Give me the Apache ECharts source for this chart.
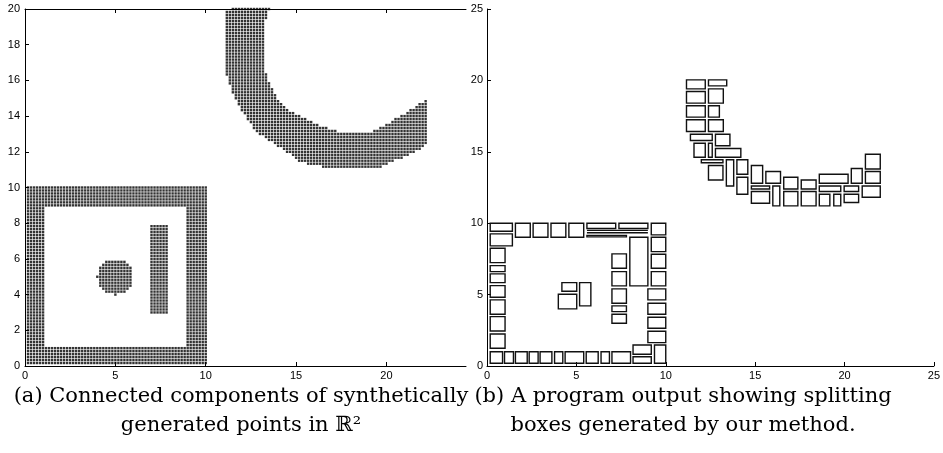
<!DOCTYPE html>
<html>
<head>
<meta charset="utf-8">
<script src="https://cdn.jsdelivr.net/npm/echarts@6/dist/echarts.min.js"></script>
<style>
  html, body { margin: 0; padding: 0; background: #fff; }
  #chart { width: 943px; height: 453px; }
</style>
</head>
<body>
<div id="chart"></div>
<script>
// (a) synthetic points: blocks of grid points [x0, x1, y0, y1], grid pitch 1/6
var pitch = 1 / 6;
var frameBlocks = [
  [0.17, 10, 0.17, 1.0],
  [0.17, 10, 9.0, 10],
  [0.17, 1.0, 1.17, 8.83],
  [9.0, 10, 1.17, 8.83]
];
var barBlocks = [
  [7.0, 7.83, 3.0, 7.83]
];
var discRows = [
  [5.0, 5.0, 4.0, 4.0],
  [4.5, 5.5, 4.17, 4.17],
  [4.33, 5.67, 4.33, 4.33],
  [4.17, 5.83, 4.5, 4.83],
  [4.0, 5.83, 5.0, 5.0],
  [4.17, 5.83, 5.17, 5.5],
  [4.33, 5.67, 5.67, 5.67],
  [4.5, 5.5, 5.83, 5.83]
];
var crescentRows = [
  [11.5, 13.5, 20.0, 20.0],
  [11.17, 13.33, 19.5, 19.83],
  [11.17, 13.17, 16.5, 19.33],
  [11.17, 13.33, 16.33, 16.33],
  [11.33, 13.33, 16.0, 16.17],
  [11.33, 13.5, 15.83, 15.83],
  [11.5, 13.5, 15.67, 15.67],
  [11.5, 13.67, 15.33, 15.5],
  [11.67, 13.83, 15.0, 15.17],
  [11.83, 14.0, 14.83, 14.83], [22.17, 22.17, 14.83, 14.83],
  [11.83, 14.17, 14.67, 14.67], [21.83, 22.17, 14.67, 14.67],
  [12.0, 14.33, 14.5, 14.5], [21.67, 22.17, 14.5, 14.5],
  [12.0, 14.5, 14.33, 14.33], [21.33, 22.17, 14.33, 14.33],
  [12.17, 14.83, 14.17, 14.17], [21.17, 22.17, 14.17, 14.17],
  [12.33, 15.17, 14.0, 14.0], [20.83, 22.17, 14.0, 14.0],
  [12.33, 15.5, 13.83, 13.83], [20.5, 22.17, 13.83, 13.83],
  [12.5, 15.83, 13.67, 13.67], [20.33, 22.17, 13.67, 13.67],
  [12.67, 16.17, 13.5, 13.5], [20.0, 22.17, 13.5, 13.5],
  [12.67, 16.67, 13.33, 13.33], [19.67, 22.17, 13.33, 13.33],
  [12.83, 17.17, 13.17, 13.17], [19.33, 22.17, 13.17, 13.17],
  [13.0, 22.17, 13.0, 13.0],
  [13.33, 22.17, 12.83, 12.83],
  [13.5, 22.17, 12.67, 12.67],
  [13.83, 22.17, 12.5, 12.5],
  [14.0, 22.0, 12.33, 12.33],
  [14.33, 21.83, 12.17, 12.17],
  [14.5, 21.5, 12.0, 12.0],
  [14.83, 21.17, 11.83, 11.83],
  [15.0, 20.83, 11.67, 11.67],
  [15.17, 20.33, 11.5, 11.5],
  [15.67, 20.0, 11.33, 11.33],
  [16.5, 19.67, 11.17, 11.17]
];

// (b) splitting boxes [x0, y0, x1, y1]
var squareBoxes = [
  [0.18, 9.44, 1.42, 10.0], [0.18, 8.41, 1.42, 9.25], [0.18, 7.24, 1.01, 8.25],
  [0.18, 6.61, 1.01, 7.03], [0.18, 5.84, 1.01, 6.45], [0.18, 4.81, 1.01, 5.63],
  [0.18, 3.62, 1.01, 4.63], [0.18, 2.45, 1.01, 3.46], [0.18, 1.24, 1.01, 2.24],
  [0.18, 0.19, 0.87, 1.0], [0.98, 0.19, 1.48, 1.0], [1.59, 0.19, 2.25, 1.0],
  [2.36, 0.19, 2.86, 1.0], [2.97, 0.19, 3.63, 1.0], [3.78, 0.19, 4.24, 1.0],
  [4.37, 0.19, 5.41, 1.0], [5.55, 0.19, 6.22, 1.0], [6.38, 0.19, 6.85, 1.0],
  [6.99, 0.19, 8.03, 1.0], [8.17, 0.82, 9.19, 1.47], [8.17, 0.19, 9.19, 0.65],
  [9.37, 0.19, 10.0, 1.47],
  [1.59, 9.02, 2.42, 10.0], [2.58, 9.02, 3.41, 10.0], [3.58, 9.02, 4.41, 10.0],
  [4.58, 9.02, 5.41, 10.0], [5.59, 9.63, 7.2, 10.0], [7.38, 9.63, 9.0, 10.0],
  [5.59, 9.5, 9.0, 9.5], [5.59, 9.33, 9.0, 9.33], [5.59, 9.04, 7.8, 9.15],
  [9.19, 9.18, 10.0, 10.0], [9.19, 8.01, 10.0, 9.02], [9.19, 6.85, 10.0, 7.83],
  [9.19, 5.61, 10.0, 6.61], [9.0, 4.63, 10.0, 5.4], [9.0, 3.62, 10.0, 4.39],
  [9.0, 2.64, 10.0, 3.41], [9.0, 1.64, 10.0, 2.43],
  [7.99, 5.61, 9.0, 9.02],
  [6.99, 6.85, 7.8, 7.85], [6.99, 5.61, 7.8, 6.61], [6.99, 4.39, 7.8, 5.4],
  [6.99, 3.81, 7.8, 4.21], [6.99, 2.99, 7.8, 3.62],
  [4.19, 5.23, 5.02, 5.84], [5.18, 4.21, 5.81, 5.84], [3.99, 4.0, 5.02, 5.02]
];
var crescentBoxes = [
  [11.16, 19.41, 12.21, 20.04], [12.39, 19.62, 13.41, 20.04],
  [11.16, 18.41, 12.21, 19.22], [12.39, 18.41, 13.22, 19.41],
  [11.16, 17.43, 12.21, 18.22], [12.39, 17.43, 13.0, 18.22],
  [11.16, 16.42, 12.21, 17.24], [12.39, 16.42, 13.22, 17.24],
  [11.38, 15.79, 12.6, 16.23], [12.78, 15.42, 13.59, 16.23],
  [11.58, 14.62, 12.21, 15.6], [12.39, 14.62, 12.6, 15.6],
  [12.78, 14.62, 14.2, 15.23], [11.99, 14.23, 13.2, 14.44],
  [12.39, 13.03, 13.2, 14.04], [13.39, 12.61, 13.8, 14.44],
  [13.98, 13.43, 14.59, 14.44], [13.98, 12.03, 14.59, 13.22],
  [14.79, 12.8, 15.42, 14.04], [14.79, 12.4, 15.81, 12.61],
  [14.79, 11.4, 15.81, 12.22], [15.6, 12.8, 16.42, 13.62],
  [15.99, 11.21, 16.38, 12.61], [16.6, 12.4, 17.39, 13.22],
  [16.6, 11.21, 17.39, 12.22], [17.58, 12.4, 18.41, 13.03],
  [17.58, 11.21, 18.41, 12.22], [18.59, 12.8, 20.2, 13.43],
  [18.59, 12.22, 19.79, 12.61], [18.59, 11.21, 19.18, 12.03],
  [19.4, 11.21, 19.79, 12.03], [19.98, 12.22, 20.79, 12.61],
  [19.98, 11.45, 20.79, 12.03], [20.38, 12.8, 20.99, 13.83],
  [21.17, 13.8, 22.0, 14.83], [21.17, 12.8, 22.0, 13.62],
  [20.99, 11.82, 22.0, 12.61]
];

var ticksA = [0, 5, 10, 15, 20];
var captionA = '(a) Connected components of synthetically\ngenerated points in \u211D\u00B2';
var captionB = '(b) A program output showing splitting\nboxes generated by our method.';

function blockPoints(blocks) {
  var pts = [];
  blocks.forEach(function (b) {
    var i0 = Math.round(b[0] / pitch), i1 = Math.round(b[1] / pitch);
    var j0 = Math.round(b[2] / pitch), j1 = Math.round(b[3] / pitch);
    for (var j = j0; j <= j1; j++)
      for (var i = i0; i <= i1; i++) pts.push([i * pitch, j * pitch]);
  });
  return pts;
}

var points = blockPoints(frameBlocks)
  .concat(blockPoints(barBlocks))
  .concat(blockPoints(discRows))
  .concat(blockPoints(crescentRows));

var labelFont = { color: '#000', fontFamily: 'Liberation Sans', fontSize: 11 };
var axisLine = { show: true, lineStyle: { color: '#000', width: 1 } };
var captionStyle = {
  textAlign: 'center', textVerticalAlign: 'top',
  fontFamily: 'DejaVu Serif', fontSize: 21, lineHeight: 29, fill: '#000'
};

function drawBox(params, api) {
  var p0 = api.coord([api.value(0), api.value(1)]);
  var p1 = api.coord([api.value(2), api.value(3)]);
  return {
    type: 'rect',
    shape: { x: p0[0], y: p1[1], width: p1[0] - p0[0], height: p0[1] - p1[1] },
    style: { fill: 'none', stroke: '#111', lineWidth: 1.4 }
  };
}

var chart = echarts.init(document.getElementById('chart'));
chart.setOption({
  animation: false,
  backgroundColor: '#fff',
  grid: [
    { left: 25, top: 9, width: 441, height: 357 },
    { left: 487, top: 9, width: 451.5, height: 357 }
  ],
  xAxis: [
    {
      gridIndex: 0, type: 'value', min: 0, max: 24.4,
      axisLine: axisLine,
      axisTick: { inside: true, length: 4, customValues: ticksA, lineStyle: { color: '#000' } },
      axisLabel: Object.assign({ margin: 4, customValues: ticksA }, labelFont),
      splitLine: { show: false }
    },
    {
      gridIndex: 0, type: 'value', min: 0, max: 24.4, position: 'top',
      axisLine: axisLine,
      axisTick: { inside: true, length: 4, customValues: [5, 10, 15, 20], lineStyle: { color: '#000' } },
      axisLabel: { show: false },
      splitLine: { show: false }
    },
    {
      gridIndex: 1, type: 'value', min: 0, max: 25, interval: 5,
      axisLine: axisLine,
      axisTick: { inside: true, length: 4, lineStyle: { color: '#000' } },
      axisLabel: Object.assign({ margin: 4 }, labelFont),
      splitLine: { show: false }
    }
  ],
  yAxis: [
    {
      gridIndex: 0, type: 'value', min: 0, max: 20, interval: 2,
      axisLine: axisLine,
      axisTick: { inside: true, length: 4, lineStyle: { color: '#000' } },
      axisLabel: Object.assign({ margin: 5 }, labelFont),
      splitLine: { show: false }
    },
    {
      gridIndex: 1, type: 'value', min: 0, max: 25, interval: 5,
      axisLine: axisLine,
      axisTick: { inside: true, length: 4, lineStyle: { color: '#000' } },
      axisLabel: Object.assign({ margin: 4 }, labelFont),
      splitLine: { show: false }
    }
  ],
  series: [
    {
      type: 'scatter', xAxisIndex: 0, yAxisIndex: 0,
      symbol: 'rect', symbolSize: 2.4,
      itemStyle: { color: '#000' },
      data: points, silent: true
    },
    {
      type: 'custom', xAxisIndex: 2, yAxisIndex: 1,
      renderItem: drawBox, encode: { x: [0, 2], y: [1, 3] },
      data: squareBoxes.concat(crescentBoxes), silent: true
    }
  ],
  graphic: [
    { type: 'text', x: 241, y: 382, style: Object.assign({ text: captionA }, captionStyle) },
    { type: 'text', x: 683, y: 382, style: Object.assign({ text: captionB }, captionStyle) }
  ]
});
</script>
</body>
</html>
